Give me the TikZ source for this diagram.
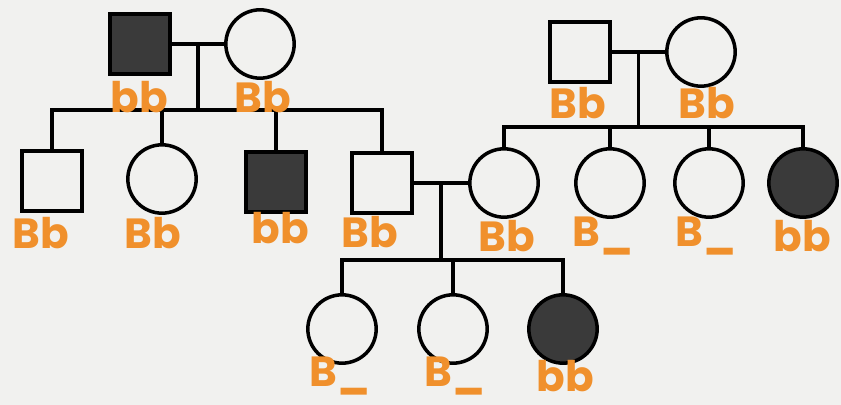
\documentclass[tikz,border=0pt]{standalone}
\usepackage{fontspec}
\setmainfont{Poppins}
\definecolor{paper}{HTML}{F1F1EF}
\definecolor{pen}{HTML}{F0902C}
\definecolor{ink}{HTML}{3A3A3A}
\begin{document}
\begin{tikzpicture}[x=0.03cm,y=-0.03cm,line width=3pt,
	male/.style={draw,rectangle,inner sep=0pt,minimum size=1.8cm},
	female/.style={draw,circle,inner sep=0pt,minimum size=2.05cm},
	sick/.style={fill=ink},
	geno/.style={text=pen,font=\fontsize{36}{38}\selectfont\bfseries,inner sep=0pt}]
		
		% Fondo
		\fill[paper] (0,0) rectangle (841,405);
		\useasboundingbox (0,0) rectangle (841,405);
		
		% Generación I
		\node[male,sick] (i1) at (140,44) {};
		\node[female] (i2) at (260,44) {};
		\node[male] (i3) at (580,52) {};
		\node[female] (i4) at (701,52) {};
		
		% Generación II
		\node[male] (ii1) at (52,181) {};
		\node[female] (ii2) at (162,179) {};
		\node[male,sick] (ii3) at (276,182) {};
		\node[male] (ii4) at (382,183) {};
		\node[female] (ii5) at (504,183) {};
		\node[female] (ii6) at (610,183) {};
		\node[female] (ii7) at (709,183) {};
		\node[female,sick] (ii8) at (803,183) {};
		
		% Generación III
		\node[female] (iii1) at (342,329) {};
		\node[female] (iii2) at (453,329) {};
		\node[female,sick] (iii3) at (563,329) {};
		
		% Parejas
		\draw (i1) -- (i2) coordinate[midway] (m1);
		\draw (i3) -- (i4) coordinate[midway] (m2);
		\draw (ii4) -- (ii5) coordinate[midway] (m3);
		
		% Hermanos
		\coordinate (s1) at (m1 |- 0,110);
		\coordinate (s2) at (m2 |- 0,127);
		\coordinate (s3) at (m3 |- 0,260);
		\draw (m1) -- (s1);
		\draw (m2) -- (s2);
		\draw (m3) -- (s3);
		\foreach \k in {ii1,ii2,ii3,ii4} \draw (s1) -| (\k.north);
		\foreach \k in {ii5,ii6,ii7,ii8} \draw (s2) -| (\k.north);
		\foreach \k in {iii1,iii2,iii3} \draw (s3) -| (\k.north);
		
		% Genotipos
		\node[geno] (g1) at (139,97) {bb};
		\node[geno] (g2) at (263,97) {Bb};
		\node[geno] (g3) at (578,103) {Bb};
		\node[geno] (g4) at (707,103) {Bb};
		\node[geno] (g5) at (41,233) {Bb};
		\node[geno] (g6) at (153,233) {Bb};
		\node[geno] (g7) at (280,228) {bb};
		\node[geno] (g8) at (370,232) {Bb};
		\node[geno] (g9) at (507,236) {Bb};
		\node[geno] (g10) at (603,236) {B\_};
		\node[geno] (g11) at (706,236) {B\_};
		\node[geno] (g12) at (802,236) {bb};
		\node[geno] (g13) at (340,376) {B\_};
		\node[geno] (g14) at (455,376) {B\_};
		\node[geno] (g15) at (565,376) {bb};
		
	\end{tikzpicture}
\end{document}
